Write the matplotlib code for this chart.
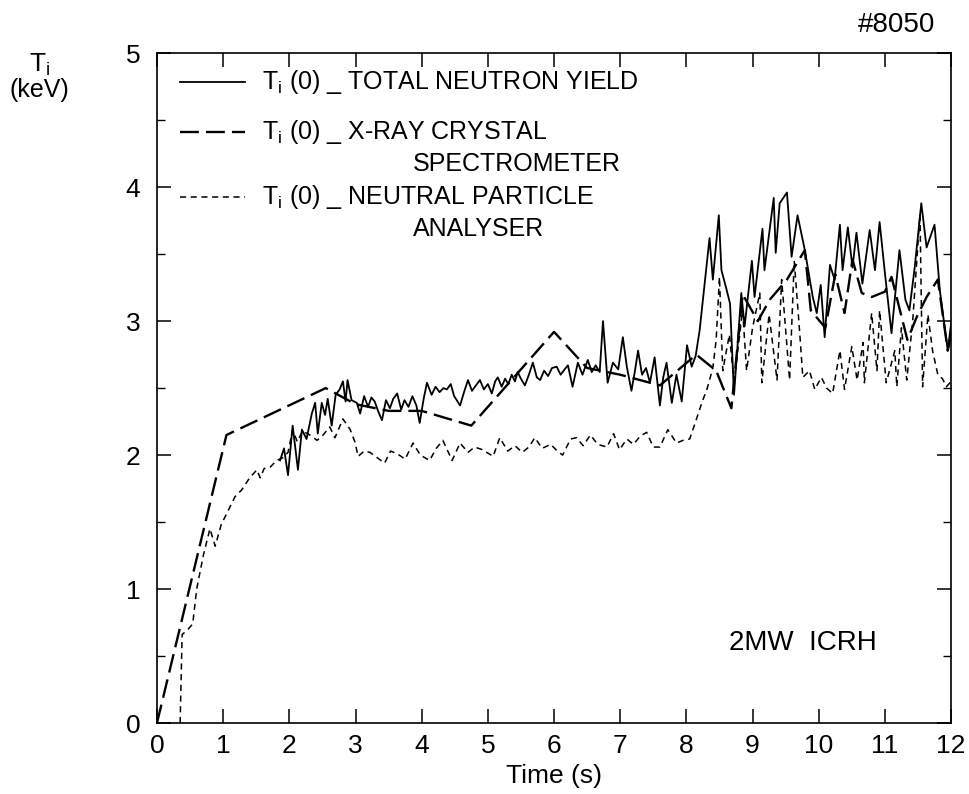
import matplotlib
matplotlib.use("Agg")
import matplotlib.pyplot as plt
from matplotlib.ticker import MultipleLocator

plt.rcParams["font.family"] = ["Liberation Sans", "DejaVu Sans"]
plt.rcParams["mathtext.default"] = "regular"

# Ti(0) from total neutron yield (solid)
t_ny = [1.86, 1.92, 1.98, 2.05, 2.13, 2.19, 2.26, 2.34, 2.39, 2.43, 2.49, 2.54, 2.58, 2.64,
        2.70, 2.76, 2.81, 2.85, 2.88, 2.94, 3.02, 3.07, 3.13, 3.19, 3.24, 3.29, 3.34, 3.40,
        3.46, 3.52, 3.57, 3.63, 3.69, 3.74, 3.80, 3.86, 3.92, 3.97, 4.03, 4.08, 4.15, 4.21,
        4.27, 4.33, 4.38, 4.44, 4.49, 4.53, 4.58, 4.64, 4.70, 4.76, 4.82, 4.88, 4.94, 5.00,
        5.06, 5.11, 5.15, 5.21, 5.26, 5.31, 5.36, 5.41, 5.45, 5.50, 5.56, 5.62, 5.68, 5.74,
        5.79, 5.85, 5.91, 5.97, 6.04, 6.10, 6.16, 6.21, 6.28, 6.36, 6.43, 6.51, 6.57, 6.63,
        6.69, 6.74, 6.81, 6.89, 6.97, 7.04, 7.10, 7.17, 7.22, 7.27, 7.33, 7.39, 7.45, 7.52,
        7.60, 7.65, 7.70, 7.78, 7.85, 7.93, 8.01, 8.08, 8.14, 8.20, 8.28, 8.35, 8.40, 8.49,
        8.53, 8.60, 8.66, 8.72, 8.83, 8.88, 8.99, 9.03, 9.15, 9.18, 9.32, 9.35, 9.41, 9.52,
        9.59, 9.68, 9.79, 9.91, 9.97, 10.03, 10.09, 10.17, 10.24, 10.32, 10.36, 10.44, 10.51,
        10.57, 10.66, 10.77, 10.85, 10.92, 11.00, 11.10, 11.22, 11.31, 11.37, 11.45, 11.55,
        11.63, 11.75, 11.83, 11.95, 12.00]
Ti_ny = [1.96, 2.05, 1.85, 2.22, 1.89, 2.19, 2.12, 2.31, 2.39, 2.16, 2.39, 2.30, 2.42, 2.22,
         2.45, 2.49, 2.55, 2.40, 2.56, 2.41, 2.39, 2.31, 2.44, 2.36, 2.43, 2.40, 2.33, 2.26,
         2.41, 2.35, 2.42, 2.46, 2.34, 2.41, 2.36, 2.44, 2.37, 2.24, 2.42, 2.54, 2.45, 2.51,
         2.47, 2.50, 2.49, 2.53, 2.44, 2.41, 2.37, 2.47, 2.56, 2.48, 2.52, 2.56, 2.49, 2.53,
         2.46, 2.55, 2.58, 2.51, 2.57, 2.53, 2.60, 2.55, 2.62, 2.57, 2.52, 2.60, 2.69, 2.58,
         2.56, 2.63, 2.59, 2.65, 2.66, 2.60, 2.64, 2.67, 2.51, 2.69, 2.60, 2.71, 2.62, 2.67,
         2.62, 3.00, 2.54, 2.69, 2.64, 2.88, 2.66, 2.48, 2.62, 2.78, 2.60, 2.65, 2.54, 2.73,
         2.37, 2.58, 2.69, 2.39, 2.60, 2.40, 2.82, 2.66, 2.74, 2.93, 3.30, 3.62, 3.31, 3.79,
         3.38, 3.25, 3.13, 2.45, 3.21, 2.96, 3.45, 3.18, 3.69, 3.38, 3.92, 3.51, 3.88, 3.96,
         3.48, 3.79, 3.53, 3.18, 3.06, 3.27, 2.88, 3.42, 3.31, 3.72, 3.38, 3.70, 3.40,
         3.66, 3.28, 3.68, 3.38, 3.74, 3.36, 2.91, 3.53, 3.16, 3.08, 3.40, 3.88,
         3.55, 3.72, 3.23, 2.78, 2.98]

# Ti(0) from X-ray crystal spectrometer (long dashes)
t_xr = [0.0, 1.05, 2.55, 3.00, 3.50, 4.00, 4.75, 6.00, 6.50, 7.00, 7.60, 8.15, 8.45, 8.68,
        8.85, 9.08, 9.26, 9.52, 9.79, 9.88, 10.10, 10.25, 10.39, 10.51, 10.65, 10.80, 11.00,
        11.10, 11.34, 11.48, 11.63, 11.80, 11.95, 12.00]
Ti_xr = [0.0, 2.15, 2.50, 2.38, 2.33, 2.33, 2.22, 2.92, 2.65, 2.60, 2.52, 2.75, 2.63, 2.35,
         3.20, 3.00, 3.16, 3.31, 3.53, 3.08, 2.95, 3.35, 3.06, 3.46, 3.21, 3.18, 3.22,
         3.33, 2.86, 3.03, 3.18, 3.31, 2.78, 2.90]

# Ti(0) from neutral particle analyser (short dashes)
t_npa = [0.35, 0.38, 0.47, 0.54, 0.60, 0.70, 0.80, 0.88, 0.97, 1.06, 1.18, 1.28, 1.40, 1.51,
         1.56, 1.62, 1.71, 1.81, 1.90, 1.98, 2.05, 2.12, 2.20, 2.31, 2.42, 2.51, 2.61, 2.69,
         2.81, 2.92, 2.99, 3.04, 3.13, 3.22, 3.33, 3.44, 3.53, 3.63, 3.75, 3.87, 3.98, 4.12,
         4.22, 4.32, 4.46, 4.58, 4.70, 4.80, 4.92, 5.08, 5.18, 5.30, 5.41, 5.52, 5.62, 5.71,
         5.82, 5.95, 6.05, 6.13, 6.25, 6.34, 6.44, 6.55, 6.66, 6.80, 6.90, 6.99, 7.10, 7.20,
         7.30, 7.40, 7.50, 7.60, 7.72, 7.85, 7.95, 8.05, 8.16, 8.24, 8.31, 8.40, 8.45, 8.50,
         8.55, 8.65, 8.72, 8.85, 8.91, 9.00, 9.11, 9.14, 9.25, 9.37, 9.44, 9.56, 9.63, 9.71,
         9.76, 9.86, 9.94, 10.04, 10.12, 10.21, 10.32, 10.39, 10.50, 10.58, 10.67, 10.69,
         10.80, 10.88, 10.92, 11.02, 11.15, 11.18, 11.25, 11.33, 11.42, 11.53, 11.57, 11.65,
         11.72, 11.80, 11.87, 11.93, 12.00]
Ti_npa = [0.0, 0.66, 0.70, 0.74, 1.00, 1.25, 1.45, 1.32, 1.48, 1.57, 1.69, 1.74, 1.83, 1.89,
          1.83, 1.90, 1.91, 1.96, 1.98, 2.02, 2.19, 2.10, 2.18, 2.15, 2.11, 2.15, 2.21, 2.13,
          2.27, 2.19, 2.10, 1.99, 2.03, 2.02, 1.98, 1.94, 2.03, 2.01, 1.97, 2.09, 2.00, 1.96,
          2.05, 2.11, 1.96, 2.09, 2.02, 2.06, 2.04, 1.99, 2.13, 2.03, 2.07, 2.02, 2.06, 2.13,
          2.05, 2.08, 2.03, 2.00, 2.12, 2.13, 2.07, 2.15, 2.08, 2.06, 2.16, 2.04, 2.12, 2.08,
          2.14, 2.17, 2.06, 2.06, 2.19, 2.09, 2.11, 2.12, 2.28, 2.40, 2.49, 2.65, 2.86, 3.33,
          2.63, 2.90, 2.55, 3.08, 2.63, 2.95, 3.21, 2.54, 3.05, 2.56, 3.31, 2.56, 3.45, 2.93,
          2.58, 2.63, 2.49, 2.58, 2.50, 2.46, 2.78, 2.49, 2.81, 2.56, 2.84, 2.54,
          3.06, 2.63, 3.08, 2.54, 2.78, 2.51, 2.95, 2.56, 3.00, 3.80, 2.51, 3.05,
          2.78, 2.60, 2.57, 2.51, 2.55]

legend_rows = [
    ("-", 1.3, "TOTAL NEUTRON YIELD", None),
    ((0, (8, 3)), 1.7, "X-RAY CRYSTAL", "SPECTROMETER"),
    ((0, (4, 3)), 1.1, "NEUTRAL PARTICLE", "ANALYSER"),
]

fig = plt.figure(figsize=(9.69, 7.94), dpi=100)
ax = fig.add_axes([0.162, 0.0894, 0.8195, 0.8436])

ax.plot(t_ny, Ti_ny, color="black", lw=1.3)
ax.plot(t_xr, Ti_xr, color="black", lw=1.7, linestyle=(0, (8, 3)))
ax.plot(t_npa, Ti_npa, color="black", lw=1.1, linestyle=(0, (4, 3)))

ax.set_xlim(0, 12)
ax.set_ylim(0, 5)
ax.xaxis.set_major_locator(MultipleLocator(1))
ax.yaxis.set_major_locator(MultipleLocator(1))
ax.yaxis.set_minor_locator(MultipleLocator(0.5))
ax.tick_params(which="major", direction="in", length=10, width=1.1,
               top=True, right=True, labelsize=19)
ax.tick_params(which="minor", direction="in", length=6, width=1.0,
               top=False, right=True)
ax.tick_params(axis="x", pad=8)
ax.tick_params(axis="y", pad=12)
for s in ax.spines.values():
    s.set_linewidth(1.2)

ax.set_xlabel("Time (s)", fontsize=19, labelpad=4)

# hand-drawn style legend
rows_y = [0.957, 0.882, 0.785]
for (ls, lw, first, second), y in zip(legend_rows, rows_y):
    ax.plot([0.029, 0.111], [y, y], transform=ax.transAxes, color="black",
            lw=lw, linestyle=ls)
    ax.text(0.132, y, r"$T_i$ (0) _ " + first, transform=ax.transAxes,
            fontsize=18, va="center", ha="left")
    if second:
        ax.text(0.322, y - 0.048, second, transform=ax.transAxes,
                fontsize=18, va="center", ha="left")

ax.text(9.76, 0.6, "2MW  ICRH", fontsize=20, ha="center", va="center")

fig.text(0.041, 0.918, r"$T_i$", fontsize=19, ha="center", va="center")
fig.text(0.041, 0.887, "(keV)", fontsize=18, ha="center", va="center")
fig.text(0.925, 0.968, "#8050", fontsize=20, ha="center", va="center")

fig.savefig("out.png", dpi=100)
